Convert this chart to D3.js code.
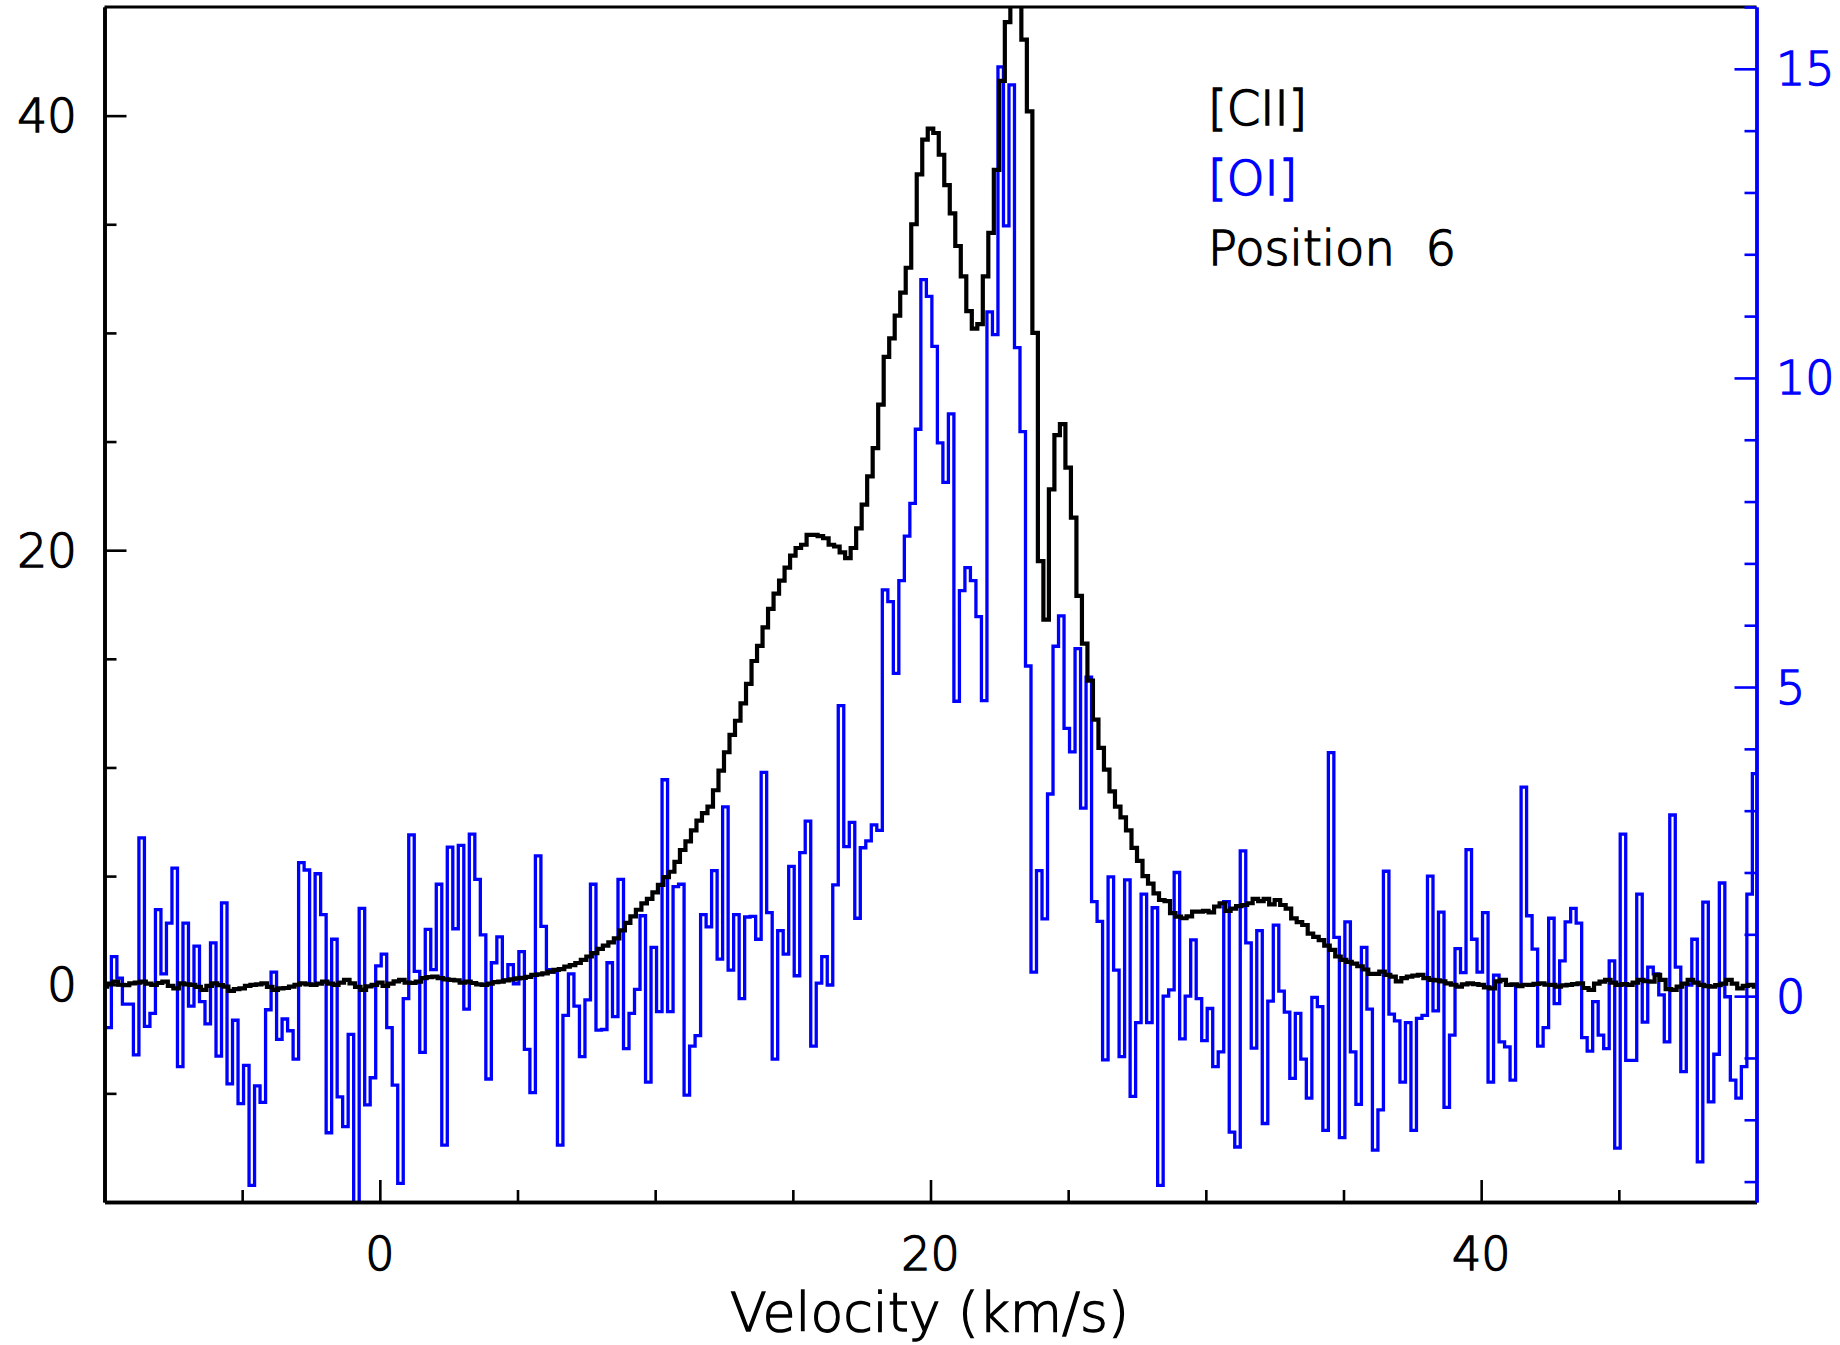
<!DOCTYPE html>
<html><head><meta charset="utf-8">
<script src="https://cdn.jsdelivr.net/npm/d3@7"></script>
<style>
html,body{margin:0;padding:0;background:#fff;}
svg{display:block;}
text{font-family:"DejaVu Sans","Liberation Sans",sans-serif;font-weight:200;}
</style></head>
<body>
<svg id="chart" width="1840" height="1345"></svg>
<script>
// ---------------- data ----------------
// [CII] spectrum (left axis), channel centres start at ciiStart, spacing ciiStep (km/s)
const ciiStart = -10.0;
const ciiStep = 0.2;
const ciiValues = [
-0.09,0.05,0.14,0.00,-0.02,0.06,0.10,0.14,0.05,-0.01,
0.08,0.14,-0.05,-0.17,0.06,0.02,-0.01,-0.10,-0.24,-0.05,
0.06,-0.02,-0.09,-0.28,-0.20,-0.17,-0.05,-0.01,0.02,0.06,
-0.10,-0.24,-0.17,-0.15,-0.09,0.00,0.06,0.02,-0.01,0.05,
0.14,0.05,-0.01,0.10,0.22,0.06,-0.10,-0.24,-0.08,-0.01,
0.10,
-0.05,0.05,0.15,0.22,0.10,0.08,0.14,0.30,0.35,0.37,
0.30,0.25,0.22,0.20,0.10,0.14,0.08,0.02,-0.01,0.05,
0.12,0.14,0.20,0.25,0.29,0.32,0.36,0.45,0.48,0.52,
0.60,0.68,0.72,0.83,0.90,1.00,1.14,1.30,1.45,1.65,
1.80,1.95,2.13,2.50,2.85,3.15,3.45,3.74,3.95,4.25,
4.60,4.95,5.20,
5.65,6.20,6.60,7.10,7.55,7.90,8.20,8.95,9.85,10.70,11.50,12.15,12.95,13.85,
14.9,15.6,16.45,17.3,18.0,18.6,19.2,19.75,20.1,20.25,
20.7,20.7,20.65,20.55,20.25,20.17,19.9,19.63,20.1,21.0,
22.1,23.4,24.7,26.7,28.9,29.75,30.8,31.85,33.0,
35.0,37.3,38.9,39.4,39.2,38.2,36.8,35.5,34.0,32.6,
31.0,30.2,30.4,32.6,34.6,37.5,41.6,44.3,48.0,47.0,
43.5,40.2,30.0,19.5,16.8,22.8,25.3,25.8,23.8,21.5,
17.9,15.7,14.0,12.2,10.9,9.9,8.9,8.2,7.7,
7.1,6.3,5.7,5.0,4.65,4.2,3.9,3.85,3.3,3.13,
3.06,3.15,3.36,3.36,3.4,3.33,3.6,3.75,3.4,3.5,
3.62,3.67,3.75,3.95,3.85,3.95,3.7,3.9,3.67,3.5,
3.05,2.88,2.75,2.35,2.2,2.05,1.8,1.6,1.3,1.14,
1.05,0.97,0.85,0.7,0.5,0.5,0.6,0.45,0.37,0.15,
0.3,0.37,0.42,0.45,0.3,0.22,0.2,0.15,0.06,0.0,
-0.09,0.02,0.06,0.03,-0.01,-0.12,-0.17,0.15,0.22,-0.01,
0.02,-0.06,0.0,-0.01,0.04,0.06,0.0,-0.01,-0.09,-0.03,
-0.01,0.03,0.06,-0.15,-0.24,0.05,0.14,0.22,0.1,-0.01,
0.03,-0.01,0.1,0.22,0.16,0.14,0.45,0.22,-0.2,-0.24,
-0.09,0.05,0.22,0.1,-0.01,-0.06,-0.09,-0.02,0.05,0.22,
0.05,-0.17,-0.05,-0.01,-0.09
];

// [OI] spectrum (right axis), first channel left edge at oiStart, channel width oiStep (km/s)
const oiStart = -10.15;
const oiStep = 0.2;
const oiValues = [
-0.51,-0.51,0.64,0.29,-0.13,-0.13,-0.95,2.56,-0.49,-0.28,
1.40,0.36,1.18,2.07,-1.14,1.18,-0.16,0.81,-0.09,-0.45,
0.86,-0.97,1.51,-1.42,-0.39,-1.74,-1.12,-3.06,-1.45,-1.72,
-0.22,0.39,-0.70,-0.37,-0.56,-1.02,2.16,2.04,0.19,1.98,
1.32,-2.21,0.92,-1.63,-2.11,-0.62,-3.5,1.42,-1.76,-1.32,
0.49,
0.68,-0.51,-1.44,-3.03,-0.04,2.61,0.40,-0.91,1.08,0.43,
1.81,-2.41,2.41,1.09,2.44,-0.21,2.62,1.89,0.99,-1.34,
0.54,0.96,0.26,0.51,0.20,0.72,-0.86,-1.56,2.27,1.13,
0.43,0.39,-2.41,-0.31,0.36,-0.16,-0.98,-0.06,1.81,-0.55,
-0.54,0.54,-0.33,1.89,-0.85,-0.28,0.11,1.30,-1.39,0.79,
-0.25,3.5,-0.25,1.77,
1.81,-1.60,-0.81,-0.64,1.32,1.12,
2.03,0.60,3.06,0.42,1.32,-0.04,1.28,1.29,0.92,3.62,
1.35,-1.02,1.06,0.68,2.10,0.33,2.32,2.83,-0.81,0.21,
0.64,0.18,1.80,4.70,2.42,2.81,1.26,2.40,2.51,2.77,
2.68,6.57,6.38,5.22,6.72,7.44,7.97,9.17,11.59,11.32,
10.51,8.95,8.31,9.42,4.77,6.56,6.93,6.72,6.14,4.78,
11.07,10.70,15.03,12.46,14.74,10.49,9.13,5.34,
0.39,2.03,
1.25,3.27,5.66,6.15,4.33,3.95,5.62,3.04,5.16,1.53,
1.21,-1.03,1.93,0.42,-0.98,1.88,-1.62,-0.43,1.65,-0.43,
1.43,-3.06,0.00,0.10,2.00,-0.69,0.00,0.91,-0.04,-0.72,
-0.20,-1.14,-0.90,1.53,-2.20,-2.44,2.35,0.86,-0.84,1.06,
-2.06,-0.08,1.15,0.08,-0.26,-1.33,-0.28,-1.02,-1.65,-0.02,
-0.17,-2.17,3.94,0.95,-2.29,1.20,-0.90,-1.75,0.79,-0.21,
-2.49,-1.84,2.02,-0.29,-0.40,
-1.39,-0.43,-2.17,-0.36,-0.31,
1.94,-0.24,1.36,-1.80,-0.63,0.77,0.38,2.37,0.92,0.39,
1.35,-1.39,0.34,-0.74,-0.82,-1.36,0.18,3.38,1.30,0.76,
-0.81,-0.51,1.26,-0.12,0.57,1.20,1.42,1.18,-0.67,-0.89,
-0.09,-0.63,-0.85,0.57,-2.46,2.62,-1.04,-1.04,1.65,-0.42,
0.47,0.36,0.02,-0.74,2.93,0.47,-1.22,0.18,0.92,-2.68,
1.52,-1.71,-0.94,1.83,-0.01,-1.36,-1.65,-1.14,1.65,3.60
];

// axes domains and ticks
const xDomain = [-10, 50];
const yLeftDomain = [-10, 45];
const yRightDomain = [-3.33, 16];
const xMajorTicks = [0, 20, 40];
const xMinorTicks = [-5, 5, 10, 15, 25, 30, 35, 45];
const yLeftMajorTicks = [0, 20, 40];
const yLeftMinorTicks = [-5, 5, 10, 15, 25, 30, 35];
const yRightMajorTicks = [0, 5, 10, 15];
const yRightMinorTicks = [-3, -2, -1, 1, 2, 3, 4, 6, 7, 8, 9, 11, 12, 13, 14, 16];
const xLabel = "Velocity (km/s)";
const legendLines = ["[CII]", "[OI]", "Position  6"];
const legendColors = ["#000000", "#0000ff", "#000000"];

// ---------------- drawing ----------------
const L = 104.5, R = 1756.5, T = 7, B = 1202;
const BLUE = "#0000ff";
const svg = d3.select("#chart");

const x = d3.scaleLinear().domain(xDomain).range([L, R]);
const yL = d3.scaleLinear().domain(yLeftDomain).range([B, T]);
const yR = d3.scaleLinear().domain(yRightDomain).range([B, T]);

svg.append("defs").append("clipPath").attr("id", "plotclip")
  .append("rect").attr("x", L).attr("y", T).attr("width", R - L).attr("height", B - T);

// step series
const oiPts = oiValues.map((v, i) => [oiStart + i * oiStep, v]);
oiPts.push([oiStart + oiValues.length * oiStep, oiValues[oiValues.length - 1]]);
const ciiPts = ciiValues.map((v, i) => [ciiStart - ciiStep / 2 + i * ciiStep, v]);
ciiPts.push([ciiStart - ciiStep / 2 + ciiValues.length * ciiStep, ciiValues[ciiValues.length - 1]]);

const plot = svg.append("g").attr("clip-path", "url(#plotclip)");
plot.append("path").datum(oiPts)
  .attr("fill", "none").attr("stroke", BLUE).attr("stroke-width", 3.3)
  .attr("d", d3.line().x(d => x(d[0])).y(d => yR(d[1])).curve(d3.curveStepAfter));
plot.append("path").datum(ciiPts)
  .attr("fill", "none").attr("stroke", "#000").attr("stroke-width", 4.2)
  .attr("d", d3.line().x(d => x(d[0])).y(d => yL(d[1])).curve(d3.curveStepAfter));

function styleAxis(g, color, w) {
  g.select(".domain").attr("stroke", color).attr("stroke-width", w);
  g.selectAll(".tick line").attr("stroke", color).attr("stroke-width", 2.6);
  g.selectAll("text").remove();
}

// bottom axis
svg.append("g").attr("transform", `translate(0,${B})`)
  .call(d3.axisBottom(x).tickValues(xMinorTicks).tickSize(-12).tickSizeOuter(0).tickFormat(""))
  .call(g => styleAxis(g, "#000", 3.6));
svg.append("g").attr("transform", `translate(0,${B})`)
  .call(d3.axisBottom(x).tickValues(xMajorTicks).tickSize(-22).tickSizeOuter(0).tickFormat(""))
  .call(g => styleAxis(g, "#000", 3.6));
svg.append("g").selectAll("text").data(xMajorTicks).join("text")
  .attr("x", d => x(d)).attr("y", 1270).attr("text-anchor", "middle")
  .attr("font-size", 46).attr("fill", "#000").attr("stroke", "#000").attr("stroke-width", 1.4)
  .text(d => d);

// left axis
svg.append("g").attr("transform", `translate(${L},0)`)
  .call(d3.axisLeft(yL).tickValues(yLeftMinorTicks).tickSize(-12).tickSizeOuter(0).tickFormat(""))
  .call(g => styleAxis(g, "#000", 3.6));
svg.append("g").attr("transform", `translate(${L},0)`)
  .call(d3.axisLeft(yL).tickValues(yLeftMajorTicks).tickSize(-22).tickSizeOuter(0).tickFormat(""))
  .call(g => styleAxis(g, "#000", 3.6));
svg.append("g").selectAll("text").data(yLeftMajorTicks).join("text")
  .attr("x", 77).attr("y", d => yL(d) + 16.5).attr("text-anchor", "end")
  .attr("font-size", 47).attr("fill", "#000").attr("stroke", "#000").attr("stroke-width", 1.4)
  .text(d => d);

// top border
svg.append("line").attr("x1", L).attr("x2", R).attr("y1", T).attr("y2", T)
  .attr("stroke", "#000").attr("stroke-width", 2.8);

// right axis (blue)
svg.append("g").attr("transform", `translate(${R},0)`)
  .call(d3.axisRight(yR).tickValues(yRightMinorTicks).tickSize(-12).tickSizeOuter(0).tickFormat(""))
  .call(g => styleAxis(g, BLUE, 3.4));
svg.append("g").attr("transform", `translate(${R},0)`)
  .call(d3.axisRight(yR).tickValues(yRightMajorTicks).tickSize(-22).tickSizeOuter(0).tickFormat(""))
  .call(g => styleAxis(g, BLUE, 3.4));
svg.append("g").selectAll("text").data(yRightMajorTicks).join("text")
  .attr("x", 1776).attr("y", d => yR(d) + 16.5).attr("text-anchor", "start")
  .attr("font-size", 46).attr("fill", BLUE).attr("stroke", BLUE).attr("stroke-width", 1.4)
  .text(d => d);

// x-axis title
svg.append("text").attr("x", 730).attr("y", 1331)
  .attr("font-size", 54).attr("fill", "#000").attr("stroke", "#000").attr("stroke-width", 1.4)
  .attr("textLength", 399).attr("lengthAdjust", "spacingAndGlyphs")
  .text(xLabel);

// legend
svg.append("g").selectAll("text").data(legendLines).join("text")
  .attr("x", 1208).attr("y", (d, i) => 125 + i * 70)
  .attr("font-size", 48).attr("fill", (d, i) => legendColors[i])
  .attr("stroke", (d, i) => legendColors[i]).attr("stroke-width", 1.5)
  .attr("xml:space", "preserve").style("white-space", "pre")
  .text(d => d);
</script>
</body></html>
